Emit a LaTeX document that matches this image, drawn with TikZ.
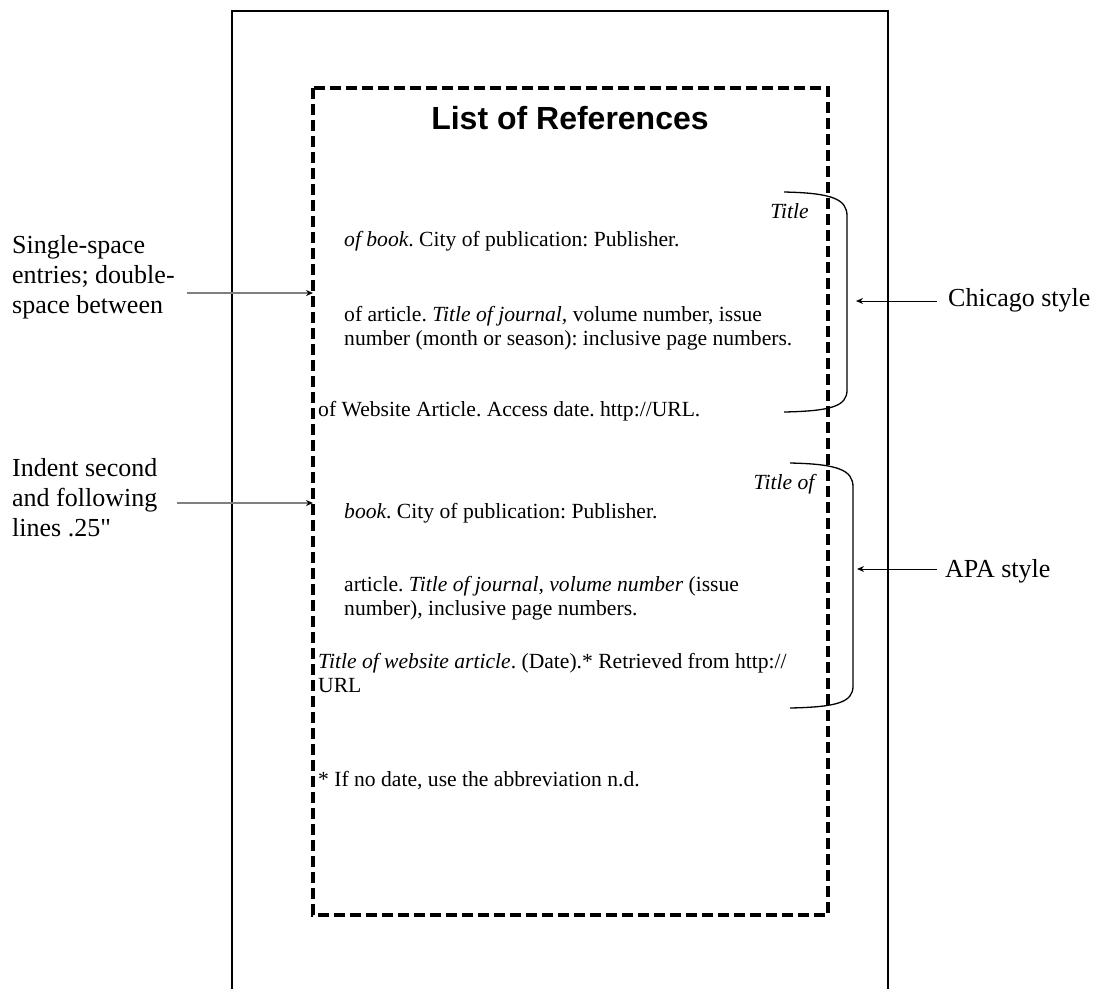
\documentclass[tikz,border=0pt]{standalone}
\usepackage{fontspec}
\setmainfont{Liberation Serif}
\newfontfamily\titlefont{Liberation Sans}
\usetikzlibrary{arrows.meta}
\frenchspacing
\begin{document}
\begin{tikzpicture}[x=1pt,y=-1pt,
  body/.style={font=\fontsize{21.6}{24}\selectfont, inner sep=0pt, anchor=base west},
  lbl/.style={font=\fontsize{26}{30}\selectfont, inner sep=0pt, anchor=base west},
  pageedge/.style={line width=1.8pt},
  dashbox/.style={line width=3.6pt, dash pattern=on 11pt off 5pt},
  bracestyle/.style={line width=1.3pt},
  leftarrow/.style={gray, line width=1.4pt, -{Stealth[color=black,length=7pt,width=6pt]}},
  rightarrow/.style={black, line width=1pt, -{Stealth[length=7pt,width=6pt]}}]
\useasboundingbox (0,0) rectangle (1097,989);
% page and dashed box
\draw[pageedge] (232,989) -- (232,11) -- (888,11) -- (888,989);
\draw[dashbox] (313,88) rectangle (828,915);
\node[font=\titlefont\bfseries\fontsize{32}{36}\selectfont, anchor=base, inner sep=0pt] (title) at (570,129) {List of References};
% Chicago entries
\node[body,anchor=base east] (c1t) at (809,218) {\textit{Title}};
\node[body] (c1b) at (344,246) {\textit{of book}. City of publication: Publisher.};
\node[body] (c2a) at (344,321) {of article. \textit{Title of journal,} volume number, issue};
\node[body] (c2b) at (344,345) {number (month or season): inclusive page numbers.};
\node[body] (c3) at (318,416) {of Website Article. Access date. http://URL.};
% APA entries
\node[body,anchor=base east] (a1t) at (817,489) {\textit{Title of}};
\node[body] (a1b) at (344,518) {\textit{book}. City of publication: Publisher.};
\node[body] (a2a) at (344,591) {article. \textit{Title of journal, volume number} (issue};
\node[body] (a2b) at (344,615) {number), inclusive page numbers.};
\node[body] (a3a) at (318,668) {\textit{Title of website article}. (Date).* Retrieved from http://};
\node[body] (a3b) at (318,692) {URL};
\node[body] (fn) at (318,786) {* If no date, use the abbreviation n.d.};
% braces
\draw[bracestyle] (784,192) .. controls (832,193) and (847,199) .. (847,216) -- (847,390) .. controls (847,406) and (832,411) .. (784,412);
\draw[bracestyle] (790,463) .. controls (838,464) and (853,470) .. (853,487) -- (853,686) .. controls (853,702) and (838,707) .. (790,708);
% labels
\node[lbl] (l1a) at (12,253) {Single-space};
\node[lbl] (l1b) at (12,283) {entries; double-};
\node[lbl] (l1c) at (12,313) {space between};
\node[lbl] (l2a) at (12,476) {Indent second};
\node[lbl] (l2b) at (12,506) {and following};
\node[lbl] (l2c) at (12,536) {lines .25\textquotedbl};
\node[lbl] (rc) at (948,306) {Chicago style};
\node[lbl] (ra) at (945,577) {APA style};
% arrows
\coordinate (s1) at (187,293);
\coordinate (e1) at (313,293);
\coordinate (s2) at (177,503);
\coordinate (e2) at (313,503);
\coordinate (s3) at (937,301);
\coordinate (e3) at (856,301);
\coordinate (s4) at (937,569);
\coordinate (e4) at (857,569);
\draw[leftarrow] (s1) -- (e1);
\draw[leftarrow] (s2) -- (e2);
\draw[rightarrow] (s3) -- (e3);
\draw[rightarrow] (s4) -- (e4);
\end{tikzpicture}
\end{document}
